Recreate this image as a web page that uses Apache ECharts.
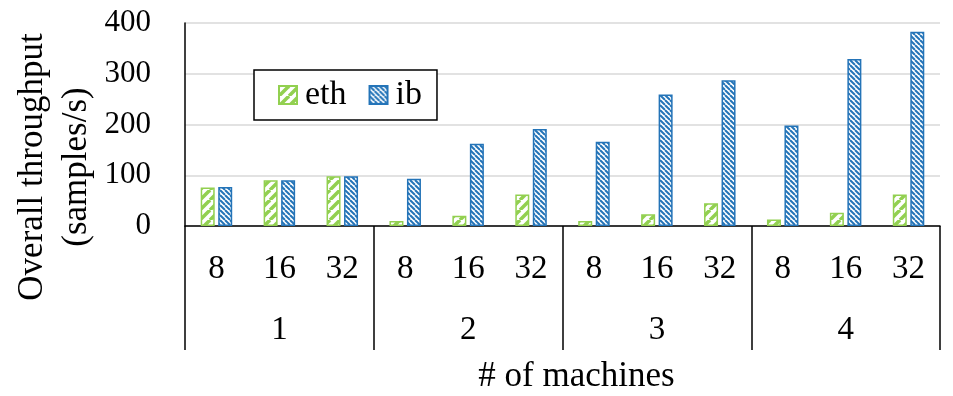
<!DOCTYPE html>
<html>
<head>
<meta charset="utf-8">
<script src="https://cdn.jsdelivr.net/npm/echarts@6/dist/echarts.min.js"></script>
<style>
html,body{margin:0;padding:0;background:#fff;}
#chart{width:953px;height:396px;}
</style>
</head>
<body>
<div id="chart"></div>
<script>
// ---- data ----
var batchSizes = ['8','16','32','8','16','32','8','16','32','8','16','32'];
var machines = ['1','2','3','4'];
var ethValues = [76, 90, 98, 10, 20, 62, 10, 23, 45, 13, 26, 62];
var ibValues  = [77, 90, 98, 93, 162, 191, 166, 259, 287, 198, 329, 383];
var yTicks = [0, 100, 200, 300, 400];
var seriesNames = ['eth', 'ib'];

var FONT = '"Liberation Serif", "Times New Roman", Times, serif';
var GREEN = '#92D050';
var BLUE = '#2474B8';

function stripePattern(color, size, width, forward) {
  var c = document.createElement('canvas');
  c.width = size; c.height = size;
  var ctx = c.getContext('2d');
  ctx.fillStyle = '#ffffff';
  ctx.fillRect(0, 0, size, size);
  ctx.strokeStyle = color;
  ctx.lineWidth = width;
  for (var k = -size; k <= size; k += size) {
    ctx.beginPath();
    if (forward) { ctx.moveTo(k, size); ctx.lineTo(k + size, 0); }
    else { ctx.moveTo(k, 0); ctx.lineTo(k + size, size); }
    ctx.stroke();
  }
  return { image: c, repeat: 'repeat' };
}

var chart = echarts.init(document.getElementById('chart'), null, {renderer: 'canvas'});
var option = {
  animation: false,
  backgroundColor: '#ffffff',
  textStyle: { fontFamily: FONT },
  grid: { left: 185, right: 13, top: 23, bottom: 170, containLabel: false, outerBoundsMode: 'none' },
  legend: {
    data: seriesNames,
    left: 254, top: 70,
    orient: 'horizontal',
    icon: 'rect',
    itemWidth: 18, itemHeight: 18,
    itemGap: 22,
    padding: [8, 15, 8, 24],
    borderColor: '#000', borderWidth: 1.5,
    backgroundColor: '#ffffff',
    textStyle: { fontFamily: FONT, fontSize: 34, color: '#000', lineHeight: 34, padding: [0, 0, 0, 3] }
  },
  xAxis: [{
    type: 'category',
    data: batchSizes,
    position: 'bottom',
    axisLine: { show: true, lineStyle: { color: '#000', width: 1.5 } },
    axisTick: { show: false },
    axisLabel: { fontFamily: FONT, fontSize: 33, color: '#000', margin: 27, lineHeight: 33, interval: 0 },
    splitLine: { show: false }
  }, {
    type: 'category',
    data: machines,
    position: 'bottom',
    axisLine: { show: false },
    axisTick: { show: true, length: 124, lineStyle: { color: '#000', width: 1.5 } },
    axisLabel: { fontFamily: FONT, fontSize: 33, color: '#000', margin: 88, lineHeight: 33, interval: 0 },
    name: '# of machines',
    nameLocation: 'middle',
    nameGap: 133,
    nameTextStyle: { fontFamily: FONT, fontSize: 35, color: '#000', padding: [0, 0, 0, 28] },
    splitLine: { show: false }
  }],
  yAxis: {
    type: 'value',
    min: yTicks[0], max: yTicks[yTicks.length - 1], interval: 100,
    axisLine: { show: true, lineStyle: { color: '#000', width: 1.5 } },
    axisTick: { show: false },
    axisLabel: { fontFamily: FONT, fontSize: 31, color: '#000', margin: 34 },
    splitLine: { show: true, lineStyle: { color: '#d9d9d9', width: 1.5 } }
  },
  graphic: [{
    type: 'text',
    x: 55, y: 167,
    rotation: Math.PI / 2,
    style: {
      text: 'Overall throughput\n(samples/s)',
      fontFamily: FONT,
      fontSize: 35,
      fill: '#000',
      align: 'center',
      verticalAlign: 'middle',
      lineHeight: 44
    }
  }],
  series: [{
    name: seriesNames[0],
    type: 'bar',
    xAxisIndex: 0,
    data: ethValues,
    barWidth: 14,
    barGap: '25%',
    itemStyle: { color: stripePattern(GREEN, 10, 3.5, true), borderColor: GREEN, borderWidth: 1.5 }
  }, {
    name: seriesNames[1],
    type: 'bar',
    xAxisIndex: 0,
    data: ibValues,
    barWidth: 14,
    barGap: '25%',
    itemStyle: { color: stripePattern(BLUE, 5, 2, false), borderColor: BLUE, borderWidth: 1.5 }
  }]
};
chart.setOption(option);
</script>
</body>
</html>
